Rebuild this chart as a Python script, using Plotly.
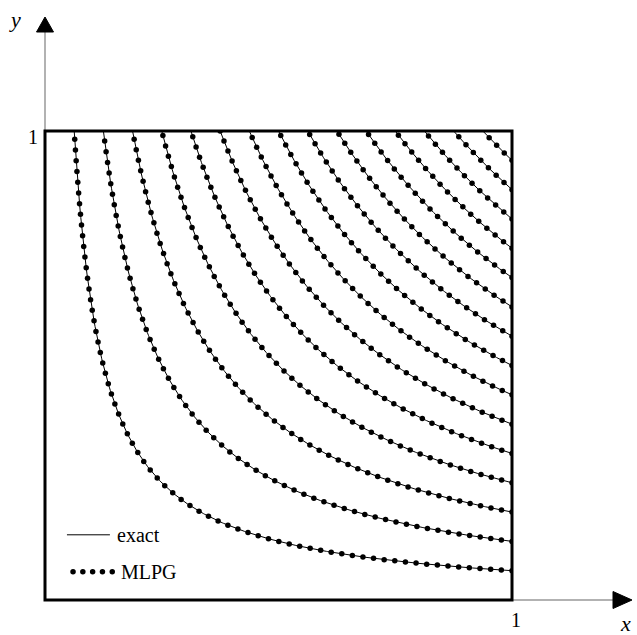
import numpy as np
import plotly.graph_objects as go

# Contour levels of the exact solution u(x, y) = x * y
levels = [k / 16 for k in range(1, 16)]
# Arc-length spacing of the MLPG evaluation points (in unit-square lengths)
node_step = 0.0229

x_tick_labels = ["1"]
y_tick_labels = ["1"]


def exact_curve(c, n=400):
    xs = np.linspace(c, 1.0, n)
    return xs, c / xs


def mlpg_nodes(c, step):
    # walk along the iso-line from x = 1 towards the top edge at equal arc length
    xs, ys = exact_curve(c, 4000)
    xs, ys = xs[::-1], ys[::-1]
    seg = np.hypot(np.diff(xs), np.diff(ys))
    s = np.concatenate([[0.0], np.cumsum(seg)])
    targets = np.arange(0.0, s[-1] + 1e-9, step)
    return np.interp(targets, s, xs), np.interp(targets, s, ys)


fig = go.Figure()

for c in levels:
    xe, ye = exact_curve(c)
    fig.add_trace(go.Scatter(x=xe, y=ye, mode="lines",
                             line=dict(color="black", width=1),
                             showlegend=False, hoverinfo="skip"))
    xn, yn = mlpg_nodes(c, node_step)
    fig.add_trace(go.Scatter(x=xn, y=yn, mode="markers",
                             marker=dict(color="black", size=5.5),
                             showlegend=False, hoverinfo="skip"))

# legend glyphs
fig.add_trace(go.Scatter(x=[0.047, 0.139], y=[0.139, 0.139], mode="lines",
                         line=dict(color="black", width=1),
                         showlegend=False, hoverinfo="skip", cliponaxis=False))
fig.add_trace(go.Scatter(x=[0.060, 0.081, 0.102, 0.123, 0.144], y=[0.060] * 5,
                         mode="markers", marker=dict(color="black", size=5.5),
                         showlegend=False, hoverinfo="skip", cliponaxis=False))

serif = "Liberation Serif, Times New Roman, serif"
annotations = [
    dict(x=0.150, y=0.139, text="exact", xanchor="left", yanchor="middle"),
    dict(x=0.159, y=0.060, text="MLPG", xanchor="left", yanchor="middle"),
]
for a in annotations:
    a.update(xref="x", yref="y", showarrow=False,
             font=dict(family=serif, size=20, color="black"))

# W = plot width in px (467), H = plot height in px (469)
W, H = 467.0, 469.0
def px(dx):
    return dx / W
def py(dy):
    return dy / H

annotations += [
    dict(x=px(-12.5), y=py(463), text=y_tick_labels[0], xanchor="center", yanchor="middle"),
    dict(x=1.0 + px(4), y=py(-20), text=x_tick_labels[0], xanchor="center", yanchor="middle"),
    dict(x=px(-30), y=py(580), text="<i>y</i>", xanchor="center", yanchor="middle"),
    dict(x=px(580), y=py(-23), text="<i>x</i>", xanchor="center", yanchor="middle"),
]
for a in annotations[2:]:
    a.update(xref="paper", yref="paper", showarrow=False,
             font=dict(family=serif, size=20, color="black"))
annotations[-2]["font"]["size"] = 22
annotations[-1]["font"]["size"] = 22

gray = "#999999"
shapes = [
    # coordinate axes
    dict(type="line", xref="paper", yref="paper", x0=0, y0=0, x1=0, y1=py(568),
         line=dict(color=gray, width=1.5)),
    dict(type="line", xref="paper", yref="paper", x0=0, y0=0, x1=px(568), y1=0,
         line=dict(color=gray, width=1.5)),
    # arrow heads
    dict(type="path", xref="paper", yref="paper",
         path=f"M {px(0)} {py(583)} L {px(-8.5)} {py(568)} L {px(8.5)} {py(568)} Z",
         fillcolor="black", line=dict(color="black", width=1)),
    dict(type="path", xref="paper", yref="paper",
         path=f"M {px(587)} 0 L {px(568)} {py(8.5)} L {px(568)} {py(-8.5)} Z",
         fillcolor="black", line=dict(color="black", width=1)),
    # unit square
    dict(type="rect", xref="paper", yref="paper", x0=0, y0=0, x1=1, y1=1,
         line=dict(color="black", width=3)),
]

fig.update_layout(
    width=637, height=635,
    margin=dict(l=45, r=125, t=131, b=35),
    paper_bgcolor="white", plot_bgcolor="white",
    xaxis=dict(range=[0, 1], visible=False, fixedrange=True),
    yaxis=dict(range=[0, 1], visible=False, fixedrange=True),
    shapes=shapes, annotations=annotations,
    showlegend=False,
)

fig.write_html("out.html")
